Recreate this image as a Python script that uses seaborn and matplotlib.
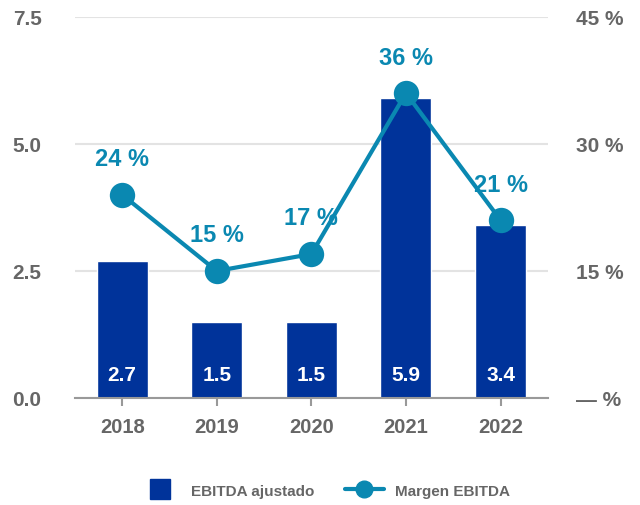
import matplotlib
matplotlib.use("Agg")
import matplotlib.pyplot as plt
import matplotlib.ticker as mticker
from matplotlib.lines import Line2D
import seaborn as sns

YEARS = ["2018", "2019", "2020", "2021", "2022"]
EBITDA = [2.7, 1.5, 1.5, 5.9, 3.4]
MARGIN = [24, 15, 17, 36, 21]
LEFT_TICKS = [0.0, 2.5, 5.0, 7.5]
RIGHT_TICKS = [0, 15, 30, 45]

BAR_COLOR = "#00339A"
LINE_COLOR = "#0A88B1"
TEXT_GRAY = "#666666"

sns.set_theme(style="white")
plt.rcParams["font.family"] = ["Liberation Sans Narrow", "Liberation Sans", "DejaVu Sans"]
plt.rcParams["font.weight"] = "bold"

fig = plt.figure(figsize=(6.4, 5.06), dpi=100)
ax = fig.add_axes([0.117, 0.2115, 0.739, 0.753])

sns.barplot(x=YEARS, y=EBITDA, color=BAR_COLOR, width=0.54, saturation=1, ax=ax)
ax.set_ylim(0, 7.5)
ax.set_yticks(LEFT_TICKS)
ax.yaxis.set_major_formatter(mticker.FormatStrFormatter("%.1f"))
ax.grid(axis="y", color="#e3e3e3", linewidth=1.5)
ax.set_axisbelow(True)
for s in ["top", "left", "right"]:
    ax.spines[s].set_visible(False)
ax.spines["bottom"].set_color("#999999")
ax.spines["bottom"].set_linewidth(1.5)
ax.tick_params(axis="y", length=0, pad=24, labelsize=15, labelcolor=TEXT_GRAY)
ax.tick_params(axis="x", length=6, width=1.5, color="#999999", direction="out",
               pad=8, labelsize=14.5, labelcolor=TEXT_GRAY, bottom=True)
ax.set_xlabel("")
ax.set_ylabel("")

# value labels inside bars
for i, v in enumerate(EBITDA):
    ax.text(i, 0.47, f"{v:.1f}", ha="center", va="center", color="white",
            fontsize=15, fontweight="bold")

ax2 = ax.twinx()
sns.pointplot(x=YEARS, y=MARGIN, color=LINE_COLOR, markers="o", markersize=16,
              linewidth=3, ax=ax2)
ax2.set_ylim(0, 45)
ax2.set_yticks(RIGHT_TICKS)
ax2.set_yticklabels([f"{t} %" if t else "— %" for t in RIGHT_TICKS])
ax2.tick_params(axis="y", length=0, pad=20, labelsize=15, labelcolor=TEXT_GRAY)
for s in ax2.spines.values():
    s.set_visible(False)
ax2.set_ylabel("")
ax2.grid(False)
ax.set_xlim(-0.5, 4.5)
ax2.set_xlim(-0.5, 4.5)

for i, m in enumerate(MARGIN):
    ax2.annotate(f"{m} %", (i, m), xytext=(0, 26), textcoords="offset points",
                 ha="center", va="center", color=LINE_COLOR, fontsize=17,
                 fontweight="bold")

handles = [
    Line2D([0], [0], color=BAR_COLOR, linestyle="none", marker="s", markersize=14,
           label="EBITDA ajustado"),
    Line2D([0], [0], color=LINE_COLOR, linewidth=3, marker="o", markersize=12,
           label="Margen EBITDA"),
]
leg = fig.legend(handles=handles, loc="center", bbox_to_anchor=(0.508, 0.028),
                 ncol=2, frameon=False, fontsize=11, handlelength=2.6,
                 columnspacing=2.0, handletextpad=0.7)
for t in leg.get_texts():
    t.set_color(TEXT_GRAY)

fig.savefig("out.png", dpi=100)
